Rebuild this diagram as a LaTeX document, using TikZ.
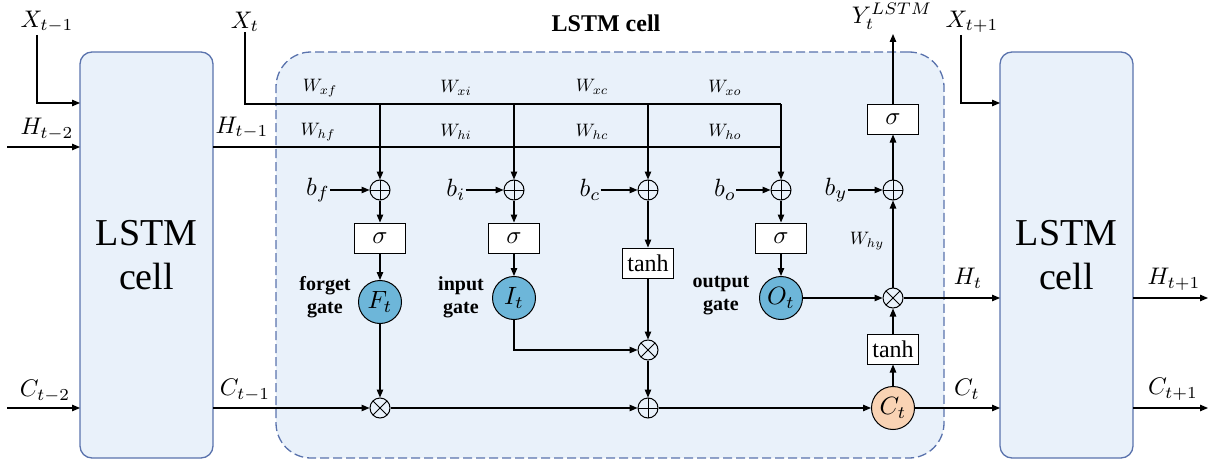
\documentclass[tikz,border=0pt]{standalone}
\usepackage{fontspec}
\setmainfont{Liberation Serif}
\usetikzlibrary{arrows.meta}
\definecolor{cellfill}{HTML}{E9F1FA}
\definecolor{cellline}{HTML}{5A73AD}
\definecolor{gateblue}{HTML}{6DB6D9}
\definecolor{cellorange}{HTML}{F9D3B4}
\newcommand{\mbig}[1]{\scalebox{2.4}{$#1$}}
\newcommand{\mcirc}[1]{\scalebox{2.5}{$#1$}}
\newcommand{\mb}[1]{\scalebox{2.5}{$#1$}}
\newcommand{\mw}[1]{\scalebox{1.8}{$#1$}}
\newcommand{\msig}{{\fontsize{10}{12}\selectfont\scalebox{2.5}{$\sigma$}}}
\tikzset{
  arr/.style={line width=1.1pt,-{Triangle[length=8pt,width=6.5pt]}},
  ln/.style={line width=1.1pt},
  lstmbox/.style={draw=cellline,line width=1.3pt,fill=cellfill,rounded corners=12pt,
    minimum width=133pt,minimum height=406pt,align=center,inner sep=0pt,
    font=\fontsize{38}{44}\selectfont},
  cellbox/.style={draw=cellline,line width=1.3pt,fill=cellfill,rounded corners=35pt,
    dash pattern=on 9pt off 4pt,minimum width=668pt,minimum height=406pt,inner sep=0pt},
  opbox/.style={draw,line width=1pt,fill=white,minimum width=51pt,minimum height=30pt,
    inner sep=0pt,font=\fontsize{24}{28}\selectfont},
  gatec/.style={circle,draw,line width=1pt,fill=gateblue,minimum size=43pt,inner sep=0pt},
  opl/.style={circle,draw,line width=1pt,minimum size=20pt,inner sep=0pt,
    path picture={\draw[line width=1pt] (path picture bounding box.north) -- (path picture bounding box.south)
      (path picture bounding box.west) -- (path picture bounding box.east);}},
  otm/.style={circle,draw,line width=1pt,minimum size=20pt,inner sep=0pt,
    path picture={\draw[line width=1pt] (path picture bounding box.north west) -- (path picture bounding box.south east)
      (path picture bounding box.south west) -- (path picture bounding box.north east);}},
  mlab/.style={inner sep=0pt},
  gatelab/.style={inner sep=0pt,align=center,font=\bfseries\fontsize{20}{23}\selectfont},
}
\begin{document}
\begin{tikzpicture}[x=1pt,y=-1pt]
\useasboundingbox (0,0) rectangle (1215,460);
% containers
\node[lstmbox] (L) at (146.5,255) {LSTM\\cell};
\node[lstmbox] (R) at (1066.5,255) {LSTM\\cell};
\node[cellbox] (cell) at (610,255) {};
\node[font=\bfseries\fontsize{24}{28}\selectfont,inner sep=0pt] (title) at (606,23) {LSTM cell};
% outer labels
\node[mlab] (xtm1) at (47,22) {\mbig{X_{t-1}}};
\node[mlab] (htm2) at (47,129) {\mbig{H_{t-2}}};
\node[mlab] (ctm2) at (45,391) {\mbig{C_{t-2}}};
\node[mlab] (htm1) at (242,128) {\mbig{H_{t-1}}};
\node[mlab] (ctm1) at (245,390) {\mbig{C_{t-1}}};
\node[mlab] (xt) at (245,22) {\mbig{X_t}};
\node[mlab] (yt) at (892,16) {\mbig{Y_t^{LSTM}}};
\node[mlab] (xtp1) at (972,22) {\mbig{X_{t+1}}};
\node[mlab] (ht) at (968,278) {\mbig{H_t}};
\node[mlab] (ct) at (967,389) {\mbig{C_t}};
\node[mlab] (htp1) at (1174,279) {\mbig{H_{t+1}}};
\node[mlab] (ctp1) at (1173,389) {\mbig{C_{t+1}}};
% W labels
\node[mlab] (wxf) at (320,88) {\mw{W_{xf}}};
\node[mlab] (whf) at (318,132) {\mw{W_{hf}}};
\node[mlab] (wxi) at (456,88) {\mw{W_{xi}}};
\node[mlab] (whi) at (456,132) {\mw{W_{hi}}};
\node[mlab] (wxc) at (592,87) {\mw{W_{xc}}};
\node[mlab] (whc) at (592,132) {\mw{W_{hc}}};
\node[mlab] (wxo) at (725,88) {\mw{W_{xo}}};
\node[mlab] (who) at (725,132) {\mw{W_{ho}}};
\node[mlab] (why) at (867,241) {\mw{W_{hy}}};
% operators
\node[opl] (pf) at (380,190) {};
\node[opl] (pi) at (514,190) {};
\node[opl] (pc) at (648,190) {};
\node[opl] (po) at (781,190) {};
\node[opl] (py) at (893,190) {};
\node[mlab] (bf) at (318,190) {\mb{b_f}};
\node[mlab] (bi) at (456,190) {\mb{b_i}};
\node[mlab] (bc) at (590,190) {\mb{b_c}};
\node[mlab] (bo) at (725,190) {\mb{b_o}};
\node[mlab] (by) at (836,190) {\mb{b_y}};
\node[opbox] (sf) at (380,238) {\msig};
\node[opbox] (si) at (514,238) {\msig};
\node[opbox] (so) at (781,238) {\msig};
\node[opbox] (tc) at (648,263) {tanh};
\node[opbox] (sy) at (893,119) {\msig};
\node[opbox] (th) at (893,349) {tanh};
\node[gatec] (F) at (380,302) {\mcirc{F_t}};
\node[gatec] (I) at (514,298) {\mcirc{I_t}};
\node[gatec] (O) at (781,298) {\mcirc{O_t}};
\node[gatec,fill=cellorange] (C) at (893,408) {\mcirc{C_t}};
\node[otm] (mf) at (380,408) {};
\node[otm] (mi) at (648,350) {};
\node[opl] (pa) at (648,408) {};
\node[otm] (mo) at (893,298) {};
\node[gatelab] (fg) at (325,297) {forget\\gate};
\node[gatelab] (ig) at (461,297) {input\\gate};
\node[gatelab] (og) at (721,296) {output\\gate};
% coordinates
\coordinate (xtm1b) at (37,35);
\coordinate (Lx) at (80,103);
\coordinate (s0) at (7,147);
\coordinate (Lh) at (80,147);
\coordinate (c0) at (7,408);
\coordinate (Lc) at (80,408);
\coordinate (Lho) at (213,147);
\coordinate (Lco) at (213,408);
\coordinate (xrow) at (781,104);
\coordinate (hrow) at (781,147);
\coordinate (xtp1b) at (961,35);
\coordinate (Rx) at (1000,103);
\coordinate (Rh) at (1000,298);
\coordinate (Rc) at (1000,408);
\coordinate (Rho) at (1133,298);
\coordinate (Rco) at (1133,408);
\coordinate (h2) at (1208,298);
\coordinate (c2) at (1208,408);
\coordinate (ytb) at (893,34);
% connectors outside
\draw[arr] (xtm1b) |- (Lx);
\draw[arr] (s0) -- (Lh);
\draw[arr] (c0) -- (Lc);
\draw[arr] (xtp1b) |- (Rx);
\draw[arr] (Rho) -- (h2);
\draw[arr] (Rco) -- (c2);
% inputs rows
\draw[ln] (xt.south) |- (xrow);
\draw[ln] (Lho) -- (hrow);
\draw[arr] (xrow) -- (po);
\draw[arr] (pf |- xrow) -- (pf);
\draw[arr] (pi |- xrow) -- (pi);
\draw[arr] (pc |- xrow) -- (pc);
% biases
\draw[arr] (bf) -- (pf);
\draw[arr] (bi) -- (pi);
\draw[arr] (bc) -- (pc);
\draw[arr] (bo) -- (po);
\draw[arr] (by) -- (py);
% gates
\draw[arr] (pf) -- (sf);
\draw[arr] (sf) -- (F);
\draw[arr] (F) -- (mf);
\draw[arr] (pi) -- (si);
\draw[arr] (si) -- (I);
\draw[arr] (I) |- (mi);
\draw[arr] (pc) -- (tc);
\draw[arr] (tc) -- (mi);
\draw[arr] (mi) -- (pa);
\draw[arr] (po) -- (so);
\draw[arr] (so) -- (O);
\draw[arr] (O) -- (mo);
% cell state
\draw[arr] (Lco) -- (mf);
\draw[arr] (mf) -- (pa);
\draw[arr] (pa) -- (C);
\draw[arr] (C) -- (Rc);
\draw[arr] (C) -- (th);
\draw[arr] (th) -- (mo);
\draw[arr] (mo) -- (Rh);
\draw[arr] (mo) -- (py);
\draw[arr] (py) -- (sy);
\draw[arr] (sy) -- (ytb);
\end{tikzpicture}
\end{document}
